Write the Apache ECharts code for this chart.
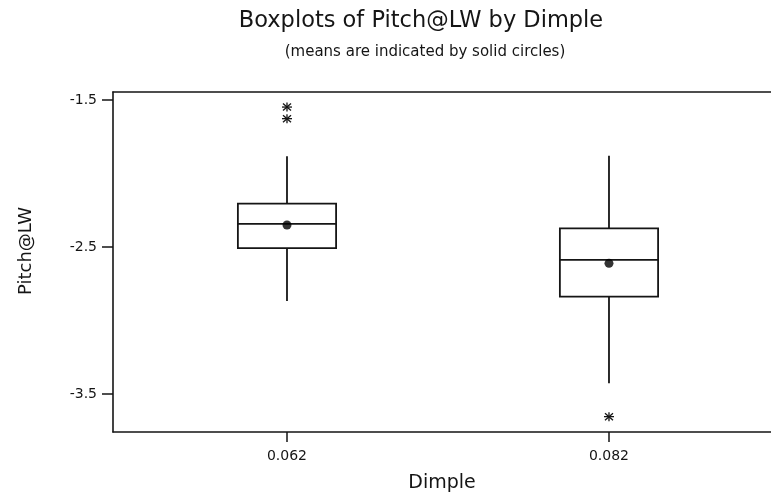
<!DOCTYPE html>
<html>
<head>
<meta charset="utf-8">
<title>Boxplots of Pitch@LW by Dimple</title>
<script src="https://cdn.jsdelivr.net/npm/echarts@6/dist/echarts.min.js"></script>
<style>
  html, body { margin: 0; padding: 0; background: #ffffff; }
  #chart { width: 771px; height: 499px; }
</style>
</head>
<body>
<div id="chart"></div>
<script>
// Dimple levels and the five-number summary of Pitch@LW at each level
const dimples      = [0.062, 0.082];
const whiskerLow   = [-2.867, -3.427];
const quartile1    = [-2.507, -2.838];
const medians      = [-2.343, -2.588];
const quartile3    = [-2.205, -2.373];
const whiskerHigh  = [-1.883, -1.879];
const means        = [-2.350, -2.611];

// Points beyond the whiskers
const outlierDimple = [0.062, 0.062, 0.082];
const outlierPitch  = [-1.548, -1.627, -3.654];

// Axis tick labels
const xTicks = [0.062, 0.082];
const yTicks = [-3.5, -2.5, -1.5];

const INK = '#151515';
const FONT = 'DejaVu Sans';
const BOX_WIDTH = 0.0061; // in Dimple units
const X_MIN = 0.051193, X_MAX = 0.092063;
const Y_MIN = -3.7585, Y_MAX = -1.4456;

const boxRows = dimples.map((d, i) =>
  [d, whiskerLow[i], quartile1[i], medians[i], quartile3[i], whiskerHigh[i]]);
const meanRows = dimples.map((d, i) => [d, means[i]]);
const outlierRows = outlierDimple.map((d, i) => [d, outlierPitch[i]]);

const chart = echarts.init(document.getElementById('chart'), null, { renderer: 'canvas' });

const frameLine = { show: true, lineStyle: { color: INK, width: 1.6 } };

chart.setOption({
  animation: false,
  backgroundColor: '#ffffff',
  graphic: [
    {
      type: 'text', x: 421, y: 21,
      style: {
        text: 'Boxplots of Pitch@LW by Dimple',
        font: '22.5px "' + FONT + '"', fill: INK,
        textAlign: 'center', textVerticalAlign: 'middle'
      }
    },
    {
      type: 'text', x: 425, y: 52,
      style: {
        text: '(means are indicated by solid circles)',
        font: '15px "' + FONT + '"', fill: INK,
        textAlign: 'center', textVerticalAlign: 'middle'
      }
    }
  ],
  grid: { left: 113, right: 0, top: 92, bottom: 67, show: false },
  xAxis: [
    {
      type: 'value', position: 'bottom',
      min: X_MIN, max: X_MAX,
      name: 'Dimple', nameLocation: 'middle', nameGap: 42,
      nameTextStyle: { fontFamily: FONT, fontSize: 19, color: INK },
      axisLine: frameLine,
      splitLine: { show: false },
      axisTick: { show: true, length: 10, customValues: xTicks, lineStyle: { color: INK, width: 1.5 } },
      axisLabel: {
        customValues: xTicks, margin: 17,
        fontFamily: FONT, fontSize: 14, color: INK,
        formatter: v => v.toFixed(3)
      }
    },
    {
      // upper edge of the plot frame
      type: 'value', position: 'top',
      min: X_MIN, max: X_MAX,
      axisLine: frameLine,
      axisTick: { show: false },
      axisLabel: { show: false },
      splitLine: { show: false }
    }
  ],
  yAxis: {
    type: 'value', position: 'left',
    min: Y_MIN, max: Y_MAX,
    name: 'Pitch@LW', nameLocation: 'middle', nameRotate: 90, nameGap: 78,
    nameTextStyle: { fontFamily: FONT, fontSize: 18, color: INK, padding: [0, 0, 0, 22] },
    axisLine: frameLine,
    splitLine: { show: false },
    axisTick: { show: true, length: 11, customValues: yTicks, lineStyle: { color: INK, width: 1.5 } },
    axisLabel: {
      customValues: yTicks, margin: 16,
      fontFamily: FONT, fontSize: 14, color: INK,
      formatter: v => v.toFixed(1)
    }
  },
  series: [
    {
      // boxes, medians and whiskers
      type: 'custom',
      data: boxRows,
      encode: { x: 0, y: [1, 2, 3, 4, 5] },
      renderItem: function (params, api) {
        const x = api.value(0);
        const pt = v => api.coord([x, v]);
        const half = api.size([BOX_WIDTH, 0])[0] / 2;
        const lo = pt(api.value(1)), q1 = pt(api.value(2)), med = pt(api.value(3)),
              q3 = pt(api.value(4)), hi = pt(api.value(5));
        const st = { stroke: INK, lineWidth: 1.8, fill: null };
        return {
          type: 'group',
          children: [
            { type: 'line', shape: { x1: lo[0], y1: lo[1], x2: q1[0], y2: q1[1] }, style: st },
            { type: 'line', shape: { x1: q3[0], y1: q3[1], x2: hi[0], y2: hi[1] }, style: st },
            { type: 'rect', shape: { x: q3[0] - half, y: q3[1], width: 2 * half, height: q1[1] - q3[1] },
              style: { stroke: INK, lineWidth: 1.8, fill: '#ffffff' } },
            { type: 'line', shape: { x1: med[0] - half, y1: med[1], x2: med[0] + half, y2: med[1] }, style: st }
          ]
        };
      }
    },
    {
      // group means
      type: 'scatter',
      data: meanRows,
      symbol: 'circle', symbolSize: 9,
      itemStyle: { color: '#000000' },
      z: 5
    },
    {
      // outliers drawn as asterisks
      type: 'custom',
      data: outlierRows,
      encode: { x: 0, y: 1 },
      renderItem: function (params, api) {
        const p = api.coord([api.value(0), api.value(1)]);
        const st = { stroke: INK, lineWidth: 1.3 };
        const arm = (dx, dy) => ({ type: 'line', shape: { x1: p[0] - dx, y1: p[1] - dy, x2: p[0] + dx, y2: p[1] + dy }, style: st });
        return {
          type: 'group',
          children: [arm(5, 0), arm(0, 4.5), arm(4, 3.5), arm(4, -3.5)]
        };
      }
    }
  ]
});
</script>
</body>
</html>
